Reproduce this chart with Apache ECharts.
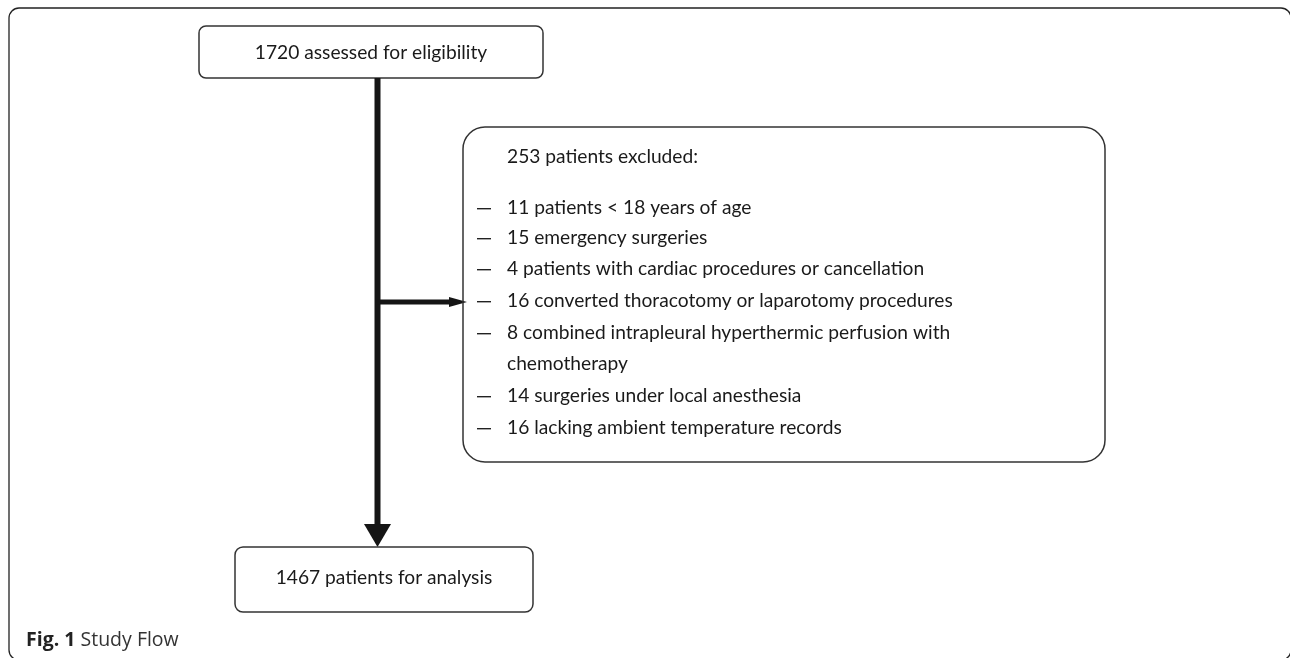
<!DOCTYPE html>
<html><head><meta charset="utf-8">
<script src="https://cdn.jsdelivr.net/npm/echarts@6/dist/echarts.min.js"></script>
<style>html,body{margin:0;padding:0;background:#fff}#c{width:1290px;height:658px}</style>
</head><body><div id="c"></div>
<script>
var topText = '1720 assessed for eligibility';
var bottomText = '1467 patients for analysis';
var excludedHeader = '253 patients excluded:';
var exclusionLines = [
  {dash: true, text: '11 patients < 18 years of age'},
  {dash: true, text: '15 emergency surgeries'},
  {dash: true, text: '4 patients with cardiac procedures or cancellation'},
  {dash: true, text: '16 converted thoracotomy or laparotomy procedures'},
  {dash: true, text: '8 combined intrapleural hyperthermic perfusion with'},
  {dash: false, text: 'chemotherapy'},
  {dash: true, text: '14 surgeries under local anesthesia'},
  {dash: true, text: '16 lacking ambient temperature records'}
];
var captionBold = 'Fig. 1';
var captionText = ' Study Flow';

var FONT = 'Lato';
var FS = 19.2;
var lineYs = [208, 238, 269, 301, 333, 364, 396, 428];

var chart = echarts.init(document.getElementById('c'), null, {renderer: 'canvas'});
var els = [];
// outer frame
els.push({type: 'rect', shape: {x: 9, y: 8, width: 1282, height: 652, r: 10},
  style: {fill: 'none', stroke: '#222', lineWidth: 1.3}});
// top box
els.push({type: 'rect', shape: {x: 199, y: 26, width: 344, height: 52, r: 7},
  style: {fill: '#fff', stroke: '#333', lineWidth: 1.5}});
els.push({type: 'text', style: {text: topText, x: 371, y: 53, align: 'center', verticalAlign: 'middle',
  font: FS + 'px ' + FONT, fill: '#1a1a1a'}});
// vertical shaft
els.push({type: 'rect', shape: {x: 374.5, y: 78, width: 6, height: 447}, style: {fill: '#151515'}});
els.push({type: 'polygon', shape: {points: [[364, 524], [391, 524], [377.5, 547]]}, style: {fill: '#151515'}});
// horizontal arrow
els.push({type: 'rect', shape: {x: 377, y: 299.5, width: 73, height: 5}, style: {fill: '#151515'}});
els.push({type: 'polygon', shape: {points: [[449, 297], [449, 307], [467, 302]]}, style: {fill: '#151515'}});
// exclusion box
els.push({type: 'rect', shape: {x: 463, y: 127, width: 642, height: 335, r: 22},
  style: {fill: 'none', stroke: '#333', lineWidth: 1.5}});
els.push({type: 'text', style: {text: excludedHeader, x: 507, y: 157, verticalAlign: 'middle',
  font: FS + 'px ' + FONT, fill: '#1a1a1a'}});
exclusionLines.forEach(function (l, i) {
  if (l.dash) {
    els.push({type: 'rect', shape: {x: 477, y: lineYs[i], width: 14, height: 1.4}, style: {fill: '#222'}});
  }
  els.push({type: 'text', style: {text: l.text, x: 507, y: lineYs[i], verticalAlign: 'middle',
    font: FS + 'px ' + FONT, fill: '#1a1a1a'}});
});
// bottom box
els.push({type: 'rect', shape: {x: 235, y: 547, width: 298, height: 65, r: 8},
  style: {fill: '#fff', stroke: '#333', lineWidth: 1.5}});
els.push({type: 'text', style: {text: bottomText, x: 384, y: 578, align: 'center', verticalAlign: 'middle',
  font: FS + 'px ' + FONT, fill: '#1a1a1a'}});
// caption
els.push({type: 'text', style: {
  text: '{b|' + captionBold + '}{n|' + captionText + '}', x: 26, y: 640, verticalAlign: 'middle',
  rich: {b: {font: 'bold 19.5px "Open Sans"', fill: '#222'}, n: {font: '19.5px "Open Sans"', fill: '#333'}}
}});

chart.setOption({animation: false, graphic: {elements: els}});
</script></body></html>
